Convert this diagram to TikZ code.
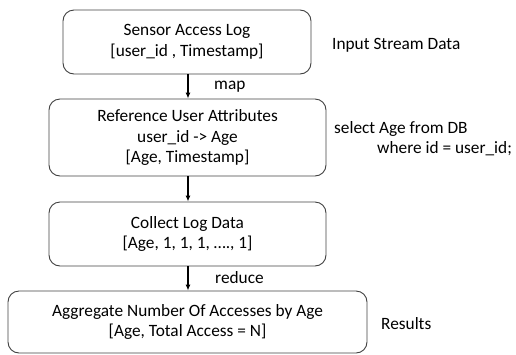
\documentclass[tikz,border=0pt]{standalone}
\usepackage{fontspec}
\setmainfont{Carlito}
\usetikzlibrary{arrows.meta}
\begin{document}
\begin{tikzpicture}[x=1pt,y=-1pt,
  stage/.style={draw=black!75,line width=0.9pt,rounded corners=11pt,align=center,
    inner sep=0pt,font=\fontsize{17.3}{20.5}\selectfont},
  note/.style={anchor=west,inner sep=0pt,font=\fontsize{17.3}{20.5}\selectfont},
  flow/.style={line width=1.3pt,-{Latex[length=6pt,width=5pt]}}]
\useasboundingbox (0,0) rectangle (516,354);
\node[stage,minimum width=248pt,minimum height=64pt] (log) at (187,42)
  {Sensor Access Log\\{}[user\_id , Timestamp]};
\node[stage,minimum width=277pt,minimum height=77pt] (ref) at (187.5,137.5)
  {Reference User Attributes\\user\_id -> Age\\{}[Age, Timestamp]};
\node[stage,minimum width=277pt,minimum height=64pt] (col) at (187.5,234)
  {Collect Log Data\\{}[Age, 1, 1, 1, …., 1]};
\node[stage,minimum width=359pt,minimum height=62pt] (agg) at (187.5,322)
  {Aggregate Number Of Accesses by Age\\{}[Age, Total Access = N]};
\draw[flow] (log.south -| 188,0) -- (ref.north -| 188,0);
\draw[flow] (ref.south -| 188,0) -- (col.north -| 188,0);
\draw[flow] (col.south -| 188,0) -- (agg.north -| 188,0);
\node[note] (maplbl) at (214,87) {map};
\node[note] (redlbl) at (215,278) {reduce};
\node[note] (input) at (332,45) {Input Stream Data};
\node[note] (sel) at (334,129) {select Age from DB};
\node[note] (where) at (377,149) {where id = user\_id;};
\node[note] (res) at (381,324) {Results};
\end{tikzpicture}
\end{document}
